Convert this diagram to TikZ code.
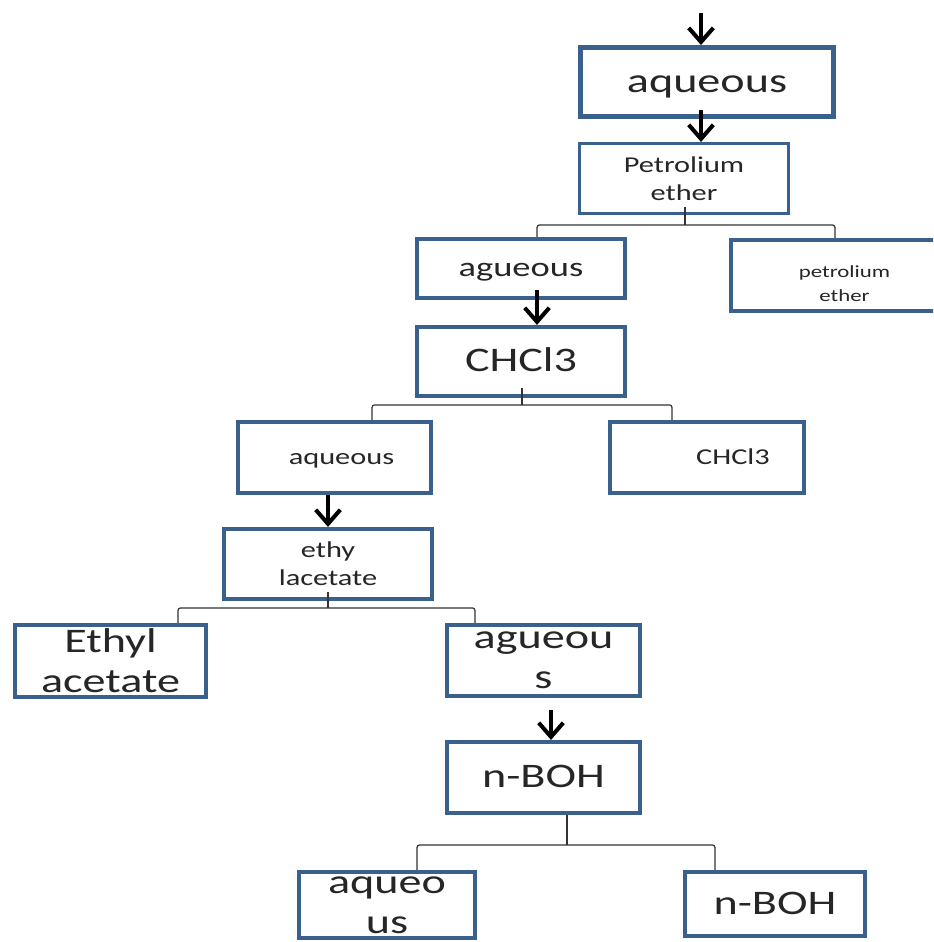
\documentclass[tikz,border=0pt]{standalone}
\usepackage{fontspec}
\setmainfont{Carlito}[FakeStretch=1.34]
\usetikzlibrary{arrows.meta}
\definecolor{boxblue}{RGB}{58,96,142}
\newcommand{\sepnode}[4] {\node at (#1) (#2) [sep, #3] {#4};}
\newcommand{\sepflow}[4] {\draw [flow] ([shift={#3}]#1.south) -- ([shift={#4}]#2.north);}
\newcommand{\sepsplit}[8] {\draw [split] ([shift={#4}]#3.north) -- ++(0,-#7) -| ([shift={#6}]#5.north);
                           \draw [split] ([shift={#2}]#1.south) -- ++(0,#8);}
\tikzset{
  sep/.style={draw=boxblue, line width=2.4pt, fill=white, inner sep=0pt, align=center, text=black!85},
  big/.style={font=\fontsize{19.6}{22.7}\selectfont},
  mid/.style={font=\fontsize{12.9}{15.9}\selectfont},
  small/.style={font=\fontsize{9.7}{13.6}\selectfont},
  bigline/.style={text height=15.7pt, text depth=4.3pt},
  midline/.style={text height=10.3pt, text depth=2.8pt},
  flow/.style={line width=2.3pt, -{Straight Barb[length=8pt, width=14pt]}},
  split/.style={draw=black!80, line width=0.7pt, rounded corners=1.5pt}
}

\begin{document}
\begin{tikzpicture}[x=0.02cm, y=-0.02cm]
\clip (0,0) rectangle (933,942);

\sepnode {707,82}     {aq1} {big, bigline, line width=2.8pt, minimum width=5.06cm, minimum height=1.38cm} {aqueous};
\sepnode {684,178.5}  {pe1} {mid, line width=1.8pt, minimum width=4.18cm, minimum height=1.40cm} {Petrolium\\ether};
\sepnode {521,268.5}  {aq2} {font=\fontsize{15.5}{18}\selectfont, text height=12.4pt, text depth=3.4pt,
                             minimum width=4.16cm, minimum height=1.18cm} {agueous};
\sepnode {844.5,275.5}{pe2} {small, minimum width=4.54cm, minimum height=1.42cm} {\rule{0pt}{16.5pt}petrolium\\ether};
\sepnode {521,361.5}  {ch1} {big, bigline, minimum width=4.16cm, minimum height=1.38cm} {CHCl3};
\sepnode {334.5,457.5}{aq3} {mid, midline, minimum width=3.86cm, minimum height=1.42cm} {\hspace*{0.28cm}aqueous};
\sepnode {707,457.5}  {ch2} {mid, midline, minimum width=3.88cm, minimum height=1.42cm} {\hspace*{1.04cm}CHCl3};
\sepnode {328,564}    {et1} {mid, minimum width=4.16cm, minimum height=1.40cm} {ethy\\lacetate};
\sepnode {110.5,661}  {et2} {big, minimum width=3.82cm, minimum height=1.44cm} {Ethyl\\acetate};
\sepnode {543.5,660.5}{aq4} {big, minimum width=3.86cm, minimum height=1.42cm} {agueou\\s};
\sepnode {543.5,777.5}{nb1} {big, bigline, minimum width=3.86cm, minimum height=1.42cm} {n-BOH};
\sepnode {387,905}    {aq5} {big, minimum width=3.52cm, minimum height=1.32cm} {aqueo\\us};
\sepnode {775,904}    {nb2} {big, bigline, minimum width=3.60cm, minimum height=1.28cm} {n-BOH};

\coordinate (feed) at (701,13);
\draw [flow] (feed) -- ([shift={(-6,0)}]aq1.north);
\sepflow {aq1}{pe1}{(-6,-9)}{(17,0)};
\sepflow {aq2}{ch1}{(16,-10)}{(16,0)};
\sepflow {aq3}{et1}{(-6.5,0)}{(0,0)};
\sepflow {aq4}{nb1}{(7.5,12)}{(7.5,0)};

\sepsplit {pe1}{(1,-8)}   {aq2}{(16,0)}   {pe2}{(-9.5,0)}{12}{18};
\sepsplit {ch1}{(1,-10)}  {aq3}{(37.5,0)} {ch2}{(-35,0)} {15}{17};
\sepsplit {et1}{(0,-9)}   {et2}{(67.5,0)} {aq4}{(-68.5,0)}{15}{16};
\sepsplit {nb1}{(23.5,0)} {aq5}{(30,0)}   {nb2}{(-60,0)} {25}{30};

\end{tikzpicture}
\end{document}
